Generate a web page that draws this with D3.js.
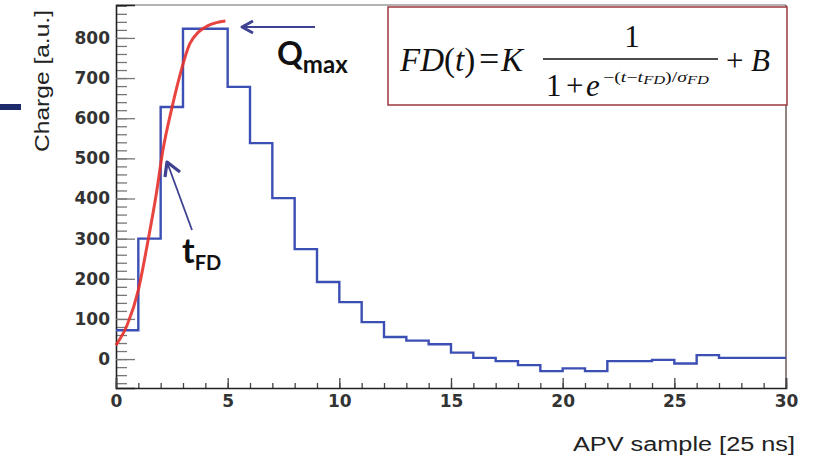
<!DOCTYPE html>
<html>
<head>
<meta charset="utf-8">
<script src="https://cdn.jsdelivr.net/npm/d3@7"></script>
<style>
  body { margin: 0; background: #fff; }
  svg { display: block; }
</style>
</head>
<body>
<svg id="chart" width="815" height="455"></svg>
<script>
// APV sample bins (0..29) and the measured charge of each bin
const bins = d3.range(30);
const charge = [72, 300, 628, 823, 823, 678, 538, 401, 274, 192,
                142, 92, 55, 46, 37, 16, 3, -5, -15, -30,
                -23, -30, -5, -5, -2, -11, 10, 3, 3, 3];

// red fit curve
const fitT = [0, 0.5, 1.0, 1.4, 1.8, 2.1, 2.5, 2.9, 3.3, 3.7, 4.1, 4.5, 4.9];
const fitQ = [35, 85, 172, 285, 410, 520, 625, 715, 785, 815, 830, 838, 842];

const xTicks = [0, 5, 10, 15, 20, 25, 30];
const yTicks = [0, 100, 200, 300, 400, 500, 600, 700, 800];

const svg = d3.select('#chart');
const plotL = 116, plotR = 786, plotT = 5, plotB = 388;

const x = d3.scaleLinear().domain([0, 30]).range([plotL, plotR]);
const y = d3.scaleLinear().domain([-72, 882]).range([plotB, plotT]);

const tickFont = 'DejaVu Sans, sans-serif';

// frame
svg.append('line').attr('x1', plotL).attr('x2', plotR).attr('y1', plotT).attr('y2', plotT)
  .attr('stroke', '#9a9a9a').attr('stroke-width', 1.5);
svg.append('line').attr('x1', plotR).attr('x2', plotR).attr('y1', plotT).attr('y2', plotB)
  .attr('stroke', '#6e5a5a').attr('stroke-width', 1.5);

// y minor ticks
svg.append('g')
  .attr('transform', `translate(${plotL},0)`)
  .call(d3.axisLeft(y).tickValues(d3.range(-60, 881, 20)).tickSize(-11).tickFormat(''))
  .call(g => g.select('.domain').remove())
  .selectAll('line').attr('stroke', '#777').attr('stroke-width', 1.3);

// y major ticks + labels
const yAxis = svg.append('g')
  .attr('transform', `translate(${plotL},0)`)
  .call(d3.axisLeft(y).tickValues(yTicks).tickSize(-19).tickPadding(6));
yAxis.select('.domain').attr('stroke', '#222').attr('stroke-width', 1.6);
yAxis.selectAll('line').attr('stroke', '#777').attr('stroke-width', 1.3);
yAxis.selectAll('text')
  .attr('font-family', tickFont).attr('font-weight', 'bold')
  .attr('font-size', 17).attr('fill', '#333');

// x minor ticks
svg.append('g')
  .attr('transform', `translate(0,${plotB})`)
  .call(d3.axisBottom(x).tickValues(d3.range(0, 31)).tickSize(-5).tickFormat(''))
  .call(g => g.select('.domain').remove())
  .selectAll('line').attr('stroke', '#444').attr('stroke-width', 1.3);

// x major ticks + labels
const xAxis = svg.append('g')
  .attr('transform', `translate(0,${plotB})`)
  .call(d3.axisBottom(x).tickValues(xTicks).tickSize(-10).tickPadding(7));
xAxis.select('.domain').attr('stroke', '#222').attr('stroke-width', 1.6);
xAxis.selectAll('line').attr('stroke', '#444').attr('stroke-width', 1.3);
xAxis.selectAll('text')
  .attr('font-family', tickFont).attr('font-weight', 'bold')
  .attr('font-size', 17).attr('fill', '#333');

// histogram
const steps = bins.map(i => [i, charge[i]]);
steps.push([30, charge[charge.length - 1]]);
svg.append('path')
  .datum(steps)
  .attr('fill', 'none')
  .attr('stroke', '#3c4fb4')
  .attr('stroke-width', 2.4)
  .attr('d', d3.line().x(d => x(d[0])).y(d => y(d[1])).curve(d3.curveStepAfter));

// fit curve
svg.append('path')
  .datum(fitT.map((t, i) => [t, fitQ[i]]))
  .attr('fill', 'none')
  .attr('stroke', '#e5312b')
  .attr('stroke-width', 3)
  .attr('stroke-opacity', 0.9)
  .attr('d', d3.line().x(d => x(d[0])).y(d => y(d[1])).curve(d3.curveMonotoneX));

// axis titles
svg.append('text')
  .attr('transform', 'translate(49,81) rotate(-90)')
  .attr('text-anchor', 'middle')
  .attr('font-family', 'Liberation Sans, Arial, sans-serif')
  .attr('font-size', 20).attr('fill', '#222')
  .attr('textLength', 142).attr('lengthAdjust', 'spacingAndGlyphs')
  .text('Charge [a.u.]');

svg.append('text')
  .attr('x', 573).attr('y', 451)
  .attr('font-family', 'Liberation Sans, Arial, sans-serif')
  .attr('font-size', 20).attr('fill', '#222')
  .attr('textLength', 222).attr('lengthAdjust', 'spacingAndGlyphs')
  .text('APV sample [25 ns]');

// slide decoration bar on the left
svg.append('rect').attr('x', 0).attr('y', 104).attr('width', 21).attr('height', 6).attr('fill', '#1d2a6b');

// arrows
const arrowCol = '#3e4290';
svg.append('line').attr('x1', 315).attr('y1', 27).attr('x2', 242).attr('y2', 27)
  .attr('stroke', arrowCol).attr('stroke-width', 1.8);
svg.append('path').attr('d', 'M253,21 L242,27 L253,33')
  .attr('fill', 'none').attr('stroke', arrowCol).attr('stroke-width', 3).attr('stroke-linejoin', 'round');

svg.append('line').attr('x1', 192).attr('y1', 230).attr('x2', 167).attr('y2', 162)
  .attr('stroke', arrowCol).attr('stroke-width', 1.8);
svg.append('path').attr('d', 'M165,177 L167,162 L180,172')
  .attr('fill', 'none').attr('stroke', arrowCol).attr('stroke-width', 3.2).attr('stroke-linejoin', 'round');

// annotations
const annFont = 'Lato, Open Sans, sans-serif';
const q = svg.append('text').attr('x', 277).attr('y', 65)
  .attr('font-family', annFont).attr('font-weight', 'bold').attr('fill', '#111');
q.append('tspan').attr('font-size', 32).text('Q');
q.append('tspan').attr('font-size', 24).attr('dy', 8).text('max');

const tf = svg.append('text').attr('x', 182).attr('y', 263)
  .attr('font-family', annFont).attr('font-weight', 'bold').attr('fill', '#111');
tf.append('tspan').attr('font-size', 34).text('t');
tf.append('tspan').attr('font-size', 20).attr('dy', 7).text('FD');

// formula box
svg.append('rect').attr('x', 388).attr('y', 7).attr('width', 399).attr('height', 98)
  .attr('fill', '#fff').attr('stroke', '#a3434a').attr('stroke-width', 1.6);

const serif = 'Liberation Serif, Times New Roman, serif';
const lhs = svg.append('text').attr('x', 400).attr('y', 71)
  .attr('font-family', serif).attr('font-size', 33).attr('fill', '#111');
lhs.append('tspan').attr('font-style', 'italic').text('FD');
lhs.append('tspan').text('(');
lhs.append('tspan').attr('font-style', 'italic').text('t');
lhs.append('tspan').text(')');
lhs.append('tspan').attr('x', 479).attr('font-size', 36).text('=');
lhs.append('tspan').attr('x', 501).attr('font-style', 'italic').text('K');

svg.append('line').attr('x1', 543).attr('x2', 718).attr('y1', 59).attr('y2', 59)
  .attr('stroke', '#111').attr('stroke-width', 1.4);

svg.append('text').attr('x', 632).attr('y', 47).attr('text-anchor', 'middle')
  .attr('font-family', serif).attr('font-size', 31).attr('fill', '#111').text('1');

const den = svg.append('text').attr('y', 96)
  .attr('font-family', serif).attr('font-size', 31).attr('fill', '#111');
den.append('tspan').attr('x', 546).text('1');
den.append('tspan').attr('x', 566).text('+');
den.append('tspan').attr('x', 586).attr('font-style', 'italic').text('e');

const ex = svg.append('text').attr('x', 603).attr('y', 82)
  .attr('font-family', serif).attr('font-size', 14.5).attr('fill', '#111')
  .attr('textLength', 106).attr('lengthAdjust', 'spacingAndGlyphs');
ex.append('tspan').text('\u2212(');
ex.append('tspan').attr('font-style', 'italic').text('t');
ex.append('tspan').text('\u2212');
ex.append('tspan').attr('font-style', 'italic').text('t');
ex.append('tspan').attr('font-style', 'italic').attr('font-size', 12).attr('dy', 2).text('FD');
ex.append('tspan').attr('dy', -2).text(')/');
ex.append('tspan').attr('font-style', 'italic').text('\u03c3');
ex.append('tspan').attr('font-style', 'italic').attr('font-size', 12).attr('dy', 2).text('FD');

const rhs = svg.append('text').attr('y', 71)
  .attr('font-family', serif).attr('font-size', 31).attr('fill', '#111');
rhs.append('tspan').attr('x', 726).text('+');
rhs.append('tspan').attr('x', 751).attr('font-style', 'italic').text('B');
</script>
</body>
</html>
